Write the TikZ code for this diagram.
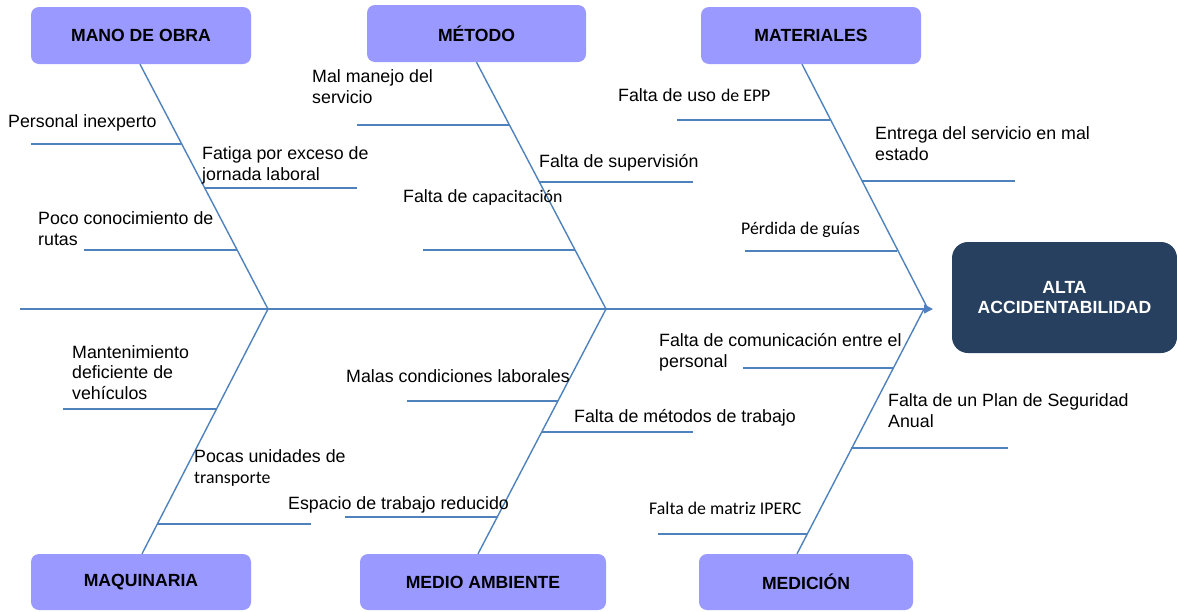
\documentclass[tikz,border=0pt]{standalone}
\usepackage{fontspec}
\setmainfont{Liberation Sans}
\newfontfamily\calfont{Carlito}
\usetikzlibrary{arrows.meta}

\definecolor{boxviolet}{RGB}{153,153,255}
\definecolor{headnavy}{RGB}{39,64,95}
\definecolor{bonecol}{RGB}{79,129,189}

\tikzset{
  category/.style={rectangle, rounded corners=8pt, fill=boxviolet, minimum width=220pt,
    minimum height=57pt, inner sep=0pt, font=\bfseries\fontsize{17.6}{20}\selectfont},
  effect/.style={rectangle, rounded corners=16pt, fill=headnavy, text=white, align=center,
    minimum width=225pt, minimum height=111pt, inner sep=0pt, font=\bfseries\fontsize{17.6}{20.5}\selectfont},
  cause/.style={anchor=base west, inner sep=0pt, align=left, font=\fontsize{17.8}{20.5}\selectfont},
  bone/.style={draw=bonecol, line width=1.4pt},
}

\begin{document}
\begin{tikzpicture}[x=1pt, y=-1pt]
    \useasboundingbox (0,0) rectangle (1177,611);

    % categories and effect
    \node[category] (mano) at (141,35.5) {MANO DE OBRA};
    \node[category, minimum width=219pt] (metodo) at (476.5,33.5) {MÉTODO};
    \node[category] (mat) at (811,35.5) {MATERIALES};
    \node[category, minimum height=56pt] (maq) at (141,582) {MAQUINARIA};
    \node[category, minimum width=246pt, minimum height=56pt] (medio) at (483,582) {MEDIO AMBIENTE};
    \node[category, minimum width=214pt, minimum height=56pt] (medic) at (806,582) {MEDICIÓN};
    \node[effect] (efecto) at (1064.5,297.5) {ALTA\\ACCIDENTABILIDAD};

    % spine
    \coordinate (tail) at (20,309);
    \coordinate (tip) at (933,309);
    \coordinate (j1) at (268,309);
    \coordinate (j2) at (606,309);
    \coordinate (j3) at (928,309);
    \coordinate (j4) at (924,309);
    \draw[bone, -{Triangle[length=9pt, width=9pt]}] (tail) -- (tip);

    % main bones
    \draw[bone] ([xshift=-1pt]mano.south) -- (j1);
    \draw[bone] (metodo.south) -- (j2);
    \draw[bone] ([xshift=-9pt]mat.south) -- (j3);
    \draw[bone] ([xshift=1pt]maq.north) -- (j1);
    \draw[bone] ([xshift=-5pt]medio.north) -- (j2);
    \draw[bone] ([xshift=-9pt]medic.north) -- (j4);

    % ribs
    \draw[bone] (31,144) -- (181,144);
    \draw[bone] (204,188) -- (357,188);
    \draw[bone] (84,250) -- (237,250);
    \draw[bone] (357,125) -- (509,125);
    \draw[bone] (540,182) -- (693,182);
    \draw[bone] (423,250) -- (575,250);
    \draw[bone] (677,120) -- (830,120);
    \draw[bone] (862,181) -- (1015,181);
    \draw[bone] (745,251) -- (897,251);
    \draw[bone] (63,409) -- (216,409);
    \draw[bone] (157,524) -- (311,524);
    \draw[bone] (407,401) -- (558,401);
    \draw[bone] (542,432) -- (693,432);
    \draw[bone] (345,517) -- (497,517);
    \draw[bone] (743,368) -- (893,368);
    \draw[bone] (851,448) -- (1008,448);
    \draw[bone] (658,534) -- (807,534);

    % causes (base = last line)
    \node[cause] (c1) at (8,127) {Personal inexperto};
    \node[cause] (c2) at (202,180) {Fatiga por exceso de\\jornada laboral};
    \node[cause] (c3) at (38,245) {Poco conocimiento de\\rutas};
    \node[cause] (c4) at (312,103) {Mal manejo del\\servicio};
    \node[cause] (c5) at (539,167) {Falta de supervisión};
    \node[cause] (c6) at (403,202) {Falta de {\calfont capacitación}};
    \node[cause] (c7) at (618,101) {Falta de uso {\calfont de EPP}};
    \node[cause] (c8) at (875,160) {Entrega del servicio en mal\\estado};
    \node[cause] (c9) at (741,234) {\calfont Pérdida de guías};
    \node[cause] (c10) at (72,399) {Mantenimiento\\deficiente de\\vehículos};
    \node[cause] (c11) at (194,483) {Pocas unidades de\\{\calfont transporte}};
    \node[cause] (c12) at (288,509) {Espacio de trabajo reducido};
    \node[cause] (c13) at (346,382) {Malas condiciones laborales};
    \node[cause] (c14) at (574,422) {Falta de métodos de trabajo};
    \node[cause] (c15) at (659,367) {Falta de comunicación entre el\\personal};
    \node[cause] (c16) at (888,427) {Falta de un Plan de Seguridad\\Anual};
    \node[cause] (c17) at (649,514) {\calfont Falta de matriz IPERC};
\end{tikzpicture}
\end{document}
